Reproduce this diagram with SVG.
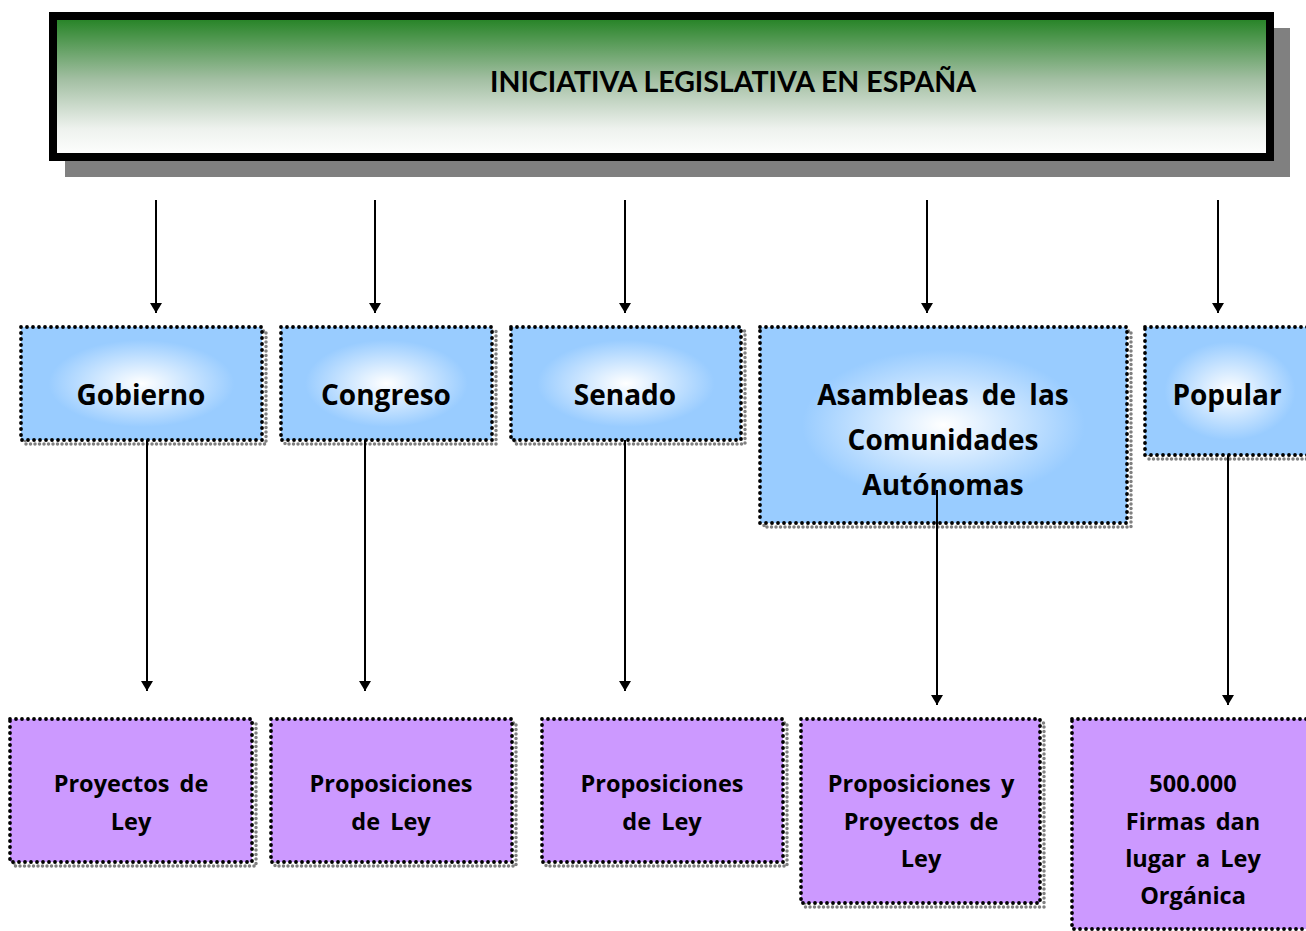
<svg xmlns="http://www.w3.org/2000/svg" width="1306" height="931" viewBox="0 0 1306 931">
<defs>
<linearGradient id="gTitle" x1="0" y1="0" x2="0" y2="1">
<stop offset="0" stop-color="#218121"/>
<stop offset="0.45" stop-color="#a3bfa3"/>
<stop offset="0.8" stop-color="#eef2ee"/>
<stop offset="1" stop-color="#ffffff"/>
</linearGradient>
<radialGradient id="gBlue" cx="0.5" cy="0.5" r="0.55">
<stop offset="0" stop-color="#ffffff"/>
<stop offset="0.7" stop-color="#99ccff"/>
<stop offset="1" stop-color="#99ccff"/>
</radialGradient>
<marker id="arr" viewBox="0 0 10 12" refX="10" refY="6" markerWidth="10" markerHeight="12" markerUnits="userSpaceOnUse" orient="auto">
<path d="M0,0 L10,6 L0,12 Z" fill="#000"/>
</marker>
</defs>
<style>
.sh{fill:none;stroke:#808080;stroke-width:3.5;stroke-dasharray:0 4.5;stroke-linecap:round}
.bd{stroke:#000;stroke-width:3.8;stroke-dasharray:0 6;stroke-linecap:round}
.blue{fill:url(#gBlue)}
.purp{fill:#cc99ff}
.t1{font-family:"Open Sans","DejaVu Sans",sans-serif;font-weight:700;font-size:28px;word-spacing:6px;text-anchor:middle;fill:#000}
.t2{font-family:"Open Sans","DejaVu Sans",sans-serif;font-weight:700;font-size:23.5px;word-spacing:4px;text-anchor:middle;fill:#000}
.ln{stroke:#000;stroke-width:2;fill:none;marker-end:url(#arr)}
</style>
<rect width="1306" height="931" fill="#fff"/>
<g id="title">
<rect x="65" y="28" width="1225" height="149" fill="#808080"/>
<rect x="53" y="16" width="1217" height="141" fill="url(#gTitle)" stroke="#000" stroke-width="8"/>
<text x="733" y="92" font-family="Lato,'Liberation Sans',sans-serif" font-weight="700" font-size="28.5" text-anchor="middle">INICIATIVA LEGISLATIVA EN ESPAÑA</text>
</g>
<g id="gobierno">
<rect class="sh" x="25" y="331" width="241" height="113"/>
<rect class="blue bd" x="21" y="327" width="241" height="113"/>
<text class="t1" x="141" y="405">Gobierno</text>
</g>
<g id="congreso">
<rect class="sh" x="285" y="331" width="211" height="113"/>
<rect class="blue bd" x="281" y="327" width="211" height="113"/>
<text class="t1" x="386" y="405">Congreso</text>
</g>
<g id="senado">
<rect class="sh" x="515" y="331" width="230" height="113"/>
<rect class="blue bd" x="511" y="327" width="230" height="113"/>
<text class="t1" x="625" y="405">Senado</text>
</g>
<g id="asambleas">
<rect class="sh" x="764" y="331" width="367" height="196"/>
<rect class="blue bd" x="760" y="327" width="367" height="196"/>
<text class="t1" x="943" y="405">Asambleas de las</text>
<text class="t1" x="943" y="450">Comunidades</text>
<text class="t1" x="943" y="495">Autónomas</text>
</g>
<g id="popular">
<rect class="sh" x="1149" y="331" width="170" height="128"/>
<rect class="blue bd" x="1145" y="327" width="170" height="128"/>
<text class="t1" x="1227" y="405">Popular</text>
</g>
<g id="proyectos">
<rect class="sh" x="14" y="723" width="242" height="143"/>
<rect class="purp bd" x="10" y="719" width="242" height="143"/>
<text class="t2" x="131" y="792">Proyectos de</text>
<text class="t2" x="131" y="830">Ley</text>
</g>
<g id="proposiciones1">
<rect class="sh" x="275" y="723" width="241" height="143"/>
<rect class="purp bd" x="271" y="719" width="241" height="143"/>
<text class="t2" x="391" y="792">Proposiciones</text>
<text class="t2" x="391" y="830">de Ley</text>
</g>
<g id="proposiciones2">
<rect class="sh" x="546" y="723" width="241" height="143"/>
<rect class="purp bd" x="542" y="719" width="241" height="143"/>
<text class="t2" x="662" y="792">Proposiciones</text>
<text class="t2" x="662" y="830">de Ley</text>
</g>
<g id="propproy">
<rect class="sh" x="805" y="723" width="239" height="184"/>
<rect class="purp bd" x="801" y="719" width="239" height="184"/>
<text class="t2" x="921" y="792">Proposiciones y</text>
<text class="t2" x="921" y="830">Proyectos de</text>
<text class="t2" x="921" y="867">Ley</text>
</g>
<g id="firmas">
<rect class="purp bd" x="1072" y="719" width="250" height="210"/>
<text class="t2" x="1193" y="792">500.000</text>
<text class="t2" x="1193" y="830">Firmas dan</text>
<text class="t2" x="1193" y="867">lugar a Ley</text>
<text class="t2" x="1193" y="904">Orgánica</text>
</g>
<g id="connectors">
<line class="ln" x1="156" y1="200" x2="156" y2="313"/>
<line class="ln" x1="375" y1="200" x2="375" y2="313"/>
<line class="ln" x1="625" y1="200" x2="625" y2="313"/>
<line class="ln" x1="927" y1="200" x2="927" y2="313"/>
<line class="ln" x1="1218" y1="200" x2="1218" y2="313"/>
<line class="ln" x1="147" y1="440" x2="147" y2="691"/>
<line class="ln" x1="365" y1="440" x2="365" y2="691"/>
<line class="ln" x1="625" y1="440" x2="625" y2="691"/>
<line class="ln" x1="937" y1="490" x2="937" y2="705"/>
<line class="ln" x1="1228" y1="455" x2="1228" y2="705"/>
</g>
</svg>
